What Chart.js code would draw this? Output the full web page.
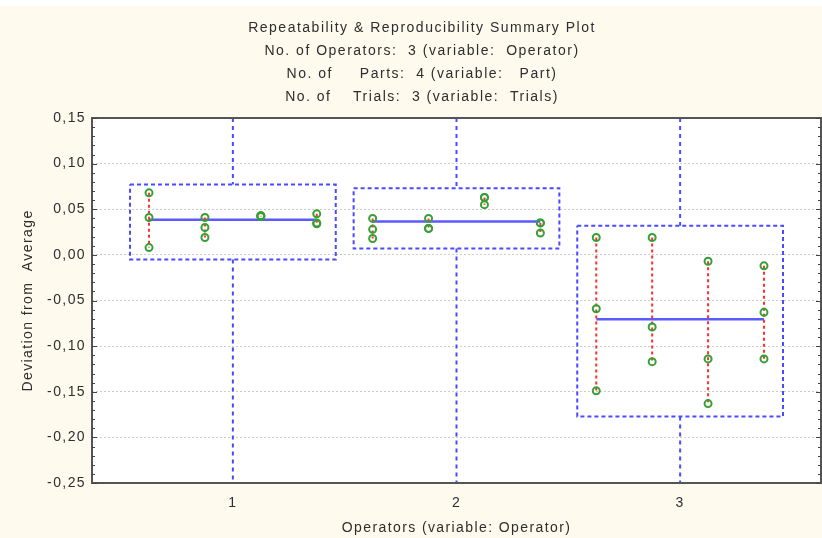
<!DOCTYPE html>
<html>
<head>
<meta charset="utf-8">
<title>Repeatability & Reproducibility Summary Plot</title>
<script src="https://cdn.jsdelivr.net/npm/chart.js@4.4.1/dist/chart.umd.min.js"></script>
<style>
    html, body { margin: 0; padding: 0; background: #fff; }
    #wrap { width: 822px; height: 538px; }
</style>
</head>
<body>
<div id="wrap"><canvas id="rrChart" width="822" height="538"></canvas></div>
<script>
// Operators on the x axis
const operators = [1, 2, 3];
const xTickLabels = ['1', '2', '3'];
const yTicks = [0.15, 0.10, 0.05, 0.00, -0.05, -0.10, -0.15, -0.20, -0.25];

// Deviation from average, 4 parts x 3 trials for each operator
const operator1 = [[0.068, 0.041, 0.008], [0.041, 0.030, 0.019], [0.043, 0.043, 0.042], [0.045, 0.035, 0.034]];
const operator2 = [[0.040, 0.028, 0.018], [0.040, 0.029, 0.029], [0.063, 0.055, 0.063], [0.035, 0.024, 0.035]];
const operator3 = [[0.019, -0.059, -0.149], [0.019, -0.079, -0.117], [-0.007, -0.114, -0.163], [-0.012, -0.063, -0.114]];

// operator average line and the dashed box around each operator
const operatorMeans = [0.0385, 0.0365, -0.0705];
const boxHigh = [0.077, 0.073, 0.032];
const boxLow = [-0.005, 0.007, -0.177];

const titleLines = [
    'Repeatability & Reproducibility Summary Plot',
    'No. of Operators:  3 (variable:  Operator)',
    'No. of     Parts:  4 (variable:   Part)',
    'No. of    Trials:  3 (variable:  Trials)'
];

const yMin = -0.25, yMax = 0.15;
const boxHalf = 0.46;   // half width of operator box, in x units
const partStep = 0.25;  // distance between parts inside a box
const font = '"Liberation Sans", Arial, sans-serif';
const textColor = '#2e2e2e';

const trials = [operator1, operator2, operator3];

let boxPts = [], whiskerPts = [], meanPts = [], rangePts = [], trialPts = [];

operators.forEach((op, i) => {
    const l = op - boxHalf, r = op + boxHalf;
    boxPts.push({x: l, y: boxHigh[i]}, {x: r, y: boxHigh[i]}, {x: r, y: boxLow[i]},
                {x: l, y: boxLow[i]}, {x: l, y: boxHigh[i]}, {x: l, y: null});

    whiskerPts.push({x: op, y: yMax}, {x: op, y: boxHigh[i]}, {x: op, y: null},
                    {x: op, y: boxLow[i]}, {x: op, y: yMin}, {x: op, y: null});

    const parts = trials[i];
    const mid = (parts.length - 1) / 2;
    meanPts.push({x: op - mid * partStep, y: operatorMeans[i]},
                 {x: op + mid * partStep, y: operatorMeans[i]},
                 {x: op, y: null});

    parts.forEach((vals, p) => {
        const px = op + (p - mid) * partStep;
        rangePts.push({x: px, y: Math.max(...vals)}, {x: px, y: Math.min(...vals)}, {x: px, y: null});
        vals.forEach(v => trialPts.push({x: px, y: v}));
    });
});

// background, frame with inward ticks, and the four title lines
const framePlugin = {
    id: 'frame',
    beforeDraw(chart) {
        const {ctx, chartArea: a} = chart;
        ctx.save();
        ctx.fillStyle = '#fefaee';
        ctx.fillRect(0, 6, chart.width, chart.height - 6);
        ctx.fillStyle = '#ffffff';
        ctx.fillRect(a.left, a.top, a.right - a.left, a.bottom - a.top);
        ctx.restore();
        // the original text is set loose, keep it for every label drawn after this
        ctx.letterSpacing = '1.4px';
    },
    afterDraw(chart) {
        const {ctx, chartArea: a} = chart;
        const ys = chart.scales.y;
        ctx.save();
        ctx.strokeStyle = '#555';
        ctx.lineWidth = 2;
        ctx.strokeRect(a.left, a.top, a.right - a.left, a.bottom - a.top);

        ctx.lineWidth = 1;
        ctx.strokeStyle = '#444';
        ctx.beginPath();
        for (let k = -25; k <= 15; k++) {
            const py = Math.round(ys.getPixelForValue(k / 100)) + 0.5;
            const len = (k % 5 === 0) ? 5 : 3;
            ctx.moveTo(a.left, py);
            ctx.lineTo(a.left + len, py);
            ctx.moveTo(a.right, py);
            ctx.lineTo(a.right - len, py);
        }
        ctx.stroke();

        ctx.fillStyle = textColor;
        ctx.font = '14px ' + font;
        ctx.letterSpacing = '1.5px';
        ctx.textAlign = 'center';
        ctx.textBaseline = 'middle';
        titleLines.forEach((t, i) => {
            ctx.fillText(t, 422, 28 + i * 23);
        });
        ctx.restore();
    }
};

const ctx = document.getElementById('rrChart').getContext('2d');
const rrChart = new Chart(ctx, {
    type: 'scatter',
    data: {
        datasets: [
            {
                label: 'Trials',
                data: trialPts,
                showLine: false,
                pointStyle: 'circle',
                pointRadius: 3.5,
                pointBorderWidth: 2,
                pointBorderColor: '#36a036',
                pointBackgroundColor: 'rgba(255,255,255,0)',
                order: 0
            },
            {
                label: 'Part range',
                data: rangePts,
                showLine: true,
                spanGaps: false,
                borderColor: '#ff3030',
                borderWidth: 2,
                borderDash: [3, 3],
                pointRadius: 0,
                order: 1
            },
            {
                label: 'Operator mean',
                data: meanPts,
                showLine: true,
                spanGaps: false,
                borderColor: '#5a5aff',
                borderWidth: 2.5,
                pointRadius: 0,
                order: 2
            },
            {
                label: 'Whiskers',
                data: whiskerPts,
                showLine: true,
                spanGaps: false,
                borderColor: '#4a4aff',
                borderWidth: 2,
                borderDash: [4, 4],
                pointRadius: 0,
                order: 3
            },
            {
                label: 'Boxes',
                data: boxPts,
                showLine: true,
                spanGaps: false,
                borderColor: '#4a4aff',
                borderWidth: 2,
                borderDash: [4, 3],
                pointRadius: 0,
                order: 4
            }
        ]
    },
    options: {
        responsive: false,
        animation: false,
        events: [],
        layout: {
            autoPadding: false,
            padding: { top: 118, right: 1, left: 0, bottom: 0 }
        },
        plugins: {
            legend: { display: false },
            tooltip: { enabled: false },
            title: { display: false }
        },
        scales: {
            x: {
                type: 'linear',
                min: 0.37,
                max: 3.63,
                afterBuildTicks: (scale) => {
                    scale.ticks = operators.map(v => ({value: v}));
                },
                afterFit: (scale) => {
                    scale.height = 55;
                    scale.paddingLeft = 0;
                    scale.paddingRight = 0;
                },
                ticks: {
                    callback: (v) => xTickLabels[operators.indexOf(v)],
                    color: textColor,
                    font: { family: font, size: 14 },
                    padding: 12,
                    maxRotation: 0
                },
                grid: { display: false, drawTicks: false },
                border: { display: false },
                title: {
                    display: true,
                    text: 'Operators (variable: Operator)',
                    color: textColor,
                    font: { family: font, size: 14 },
                    padding: { top: 0, bottom: 1 }
                }
            },
            y: {
                min: yMin,
                max: yMax,
                afterBuildTicks: (scale) => {
                    scale.ticks = yTicks.map(v => ({value: v}));
                },
                afterFit: (scale) => { scale.width = 92; },
                ticks: {
                    callback: (v) => v.toFixed(2).replace('.', ','),
                    color: textColor,
                    font: { family: font, size: 14 },
                    padding: 6,
                    autoSkip: false
                },
                grid: {
                    color: '#cccccc',
                    lineWidth: 1,
                    drawTicks: false
                },
                border: { display: false, dash: [2, 2] },
                title: {
                    display: true,
                    text: 'Deviation from  Average',
                    color: textColor,
                    font: { family: font, size: 14 },
                    padding: { top: 20, bottom: 0 }
                }
            }
        }
    },
    plugins: [framePlugin]
});
</script>
</body>
</html>
